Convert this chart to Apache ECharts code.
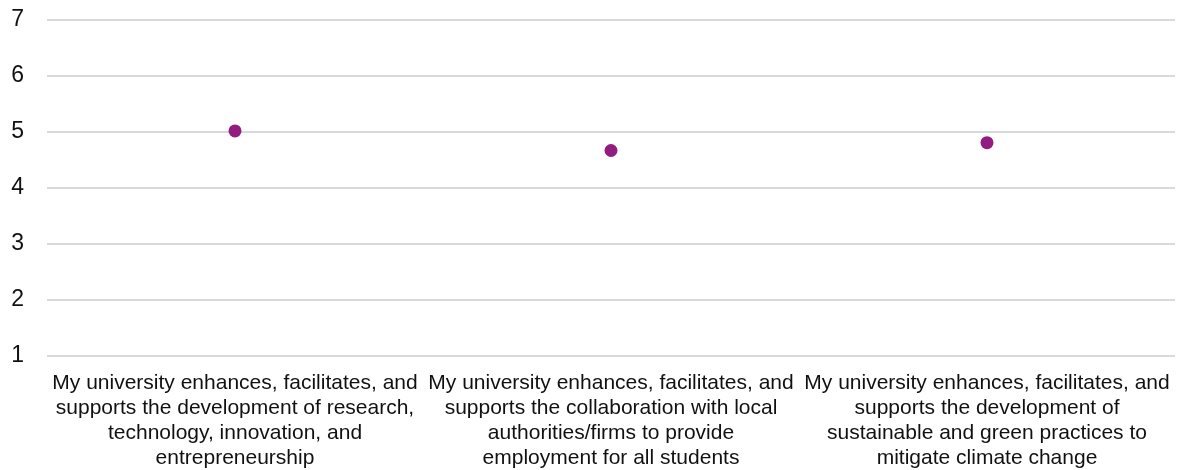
<!DOCTYPE html>
<html>
<head>
<meta charset="utf-8">
<script src="https://cdn.jsdelivr.net/npm/echarts@6/dist/echarts.min.js"></script>
<style>
  html, body { margin: 0; padding: 0; background: #fff; }
  #chart { width: 1181px; height: 470px; }
</style>
</head>
<body>
<div id="chart"></div>
<script>
const categories = [
  'My university enhances, facilitates, and\nsupports the development of research,\ntechnology, innovation, and\nentrepreneurship',
  'My university enhances, facilitates, and\nsupports the collaboration with local\nauthorities/firms to provide\nemployment for all students',
  'My university enhances, facilitates, and\nsupports the development of\nsustainable and green practices to\nmitigate climate change'
]
const scores = [5.02, 4.67, 4.81]

const chart = echarts.init(document.getElementById('chart'))
chart.setOption({
  animation: false,
  textStyle: { fontFamily: '"Liberation Sans", Arial, sans-serif' },
  grid: { left: 47, right: 6, top: 20, bottom: 114, outerBoundsMode: 'none' },
  xAxis: {
    type: 'category',
    data: categories,
    boundaryGap: true,
    axisLine: { show: false },
    axisTick: { show: false },
    axisLabel: {
      interval: 0,
      margin: 15,
      color: '#111',
      fontSize: 21,
      lineHeight: 25,
      align: 'center'
    }
  },
  yAxis: {
    type: 'value',
    min: 1,
    max: 7,
    interval: 1,
    axisLine: { show: false },
    axisTick: { show: false },
    axisLabel: { color: '#111', fontSize: 23, margin: 23 },
    splitLine: { lineStyle: { color: '#d9d9d9', width: 2 } }
  },
  series: [
    {
      type: 'scatter',
      data: scores,
      symbol: 'circle',
      symbolSize: 13,
      itemStyle: { color: '#921c7f', opacity: 1 }
    }
  ]
})
</script>
</body>
</html>
